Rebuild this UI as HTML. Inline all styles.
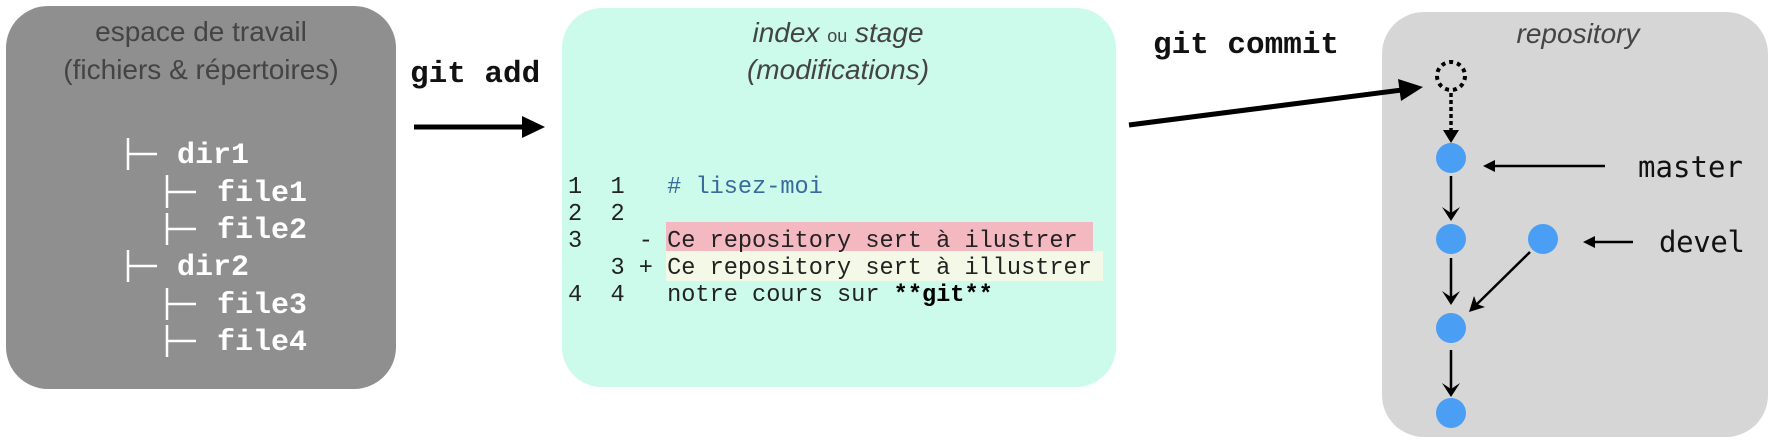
<!DOCTYPE html>
<html><head><meta charset="utf-8"><style>
html,body{margin:0;padding:0;background:#fff;}
svg{display:block;}
.pre{white-space:pre;}
</style></head><body>
<svg width="1774" height="447" viewBox="0 0 1774 447" xmlns="http://www.w3.org/2000/svg">
<!-- Box 1 -->
<rect x="6" y="6" width="390" height="383" rx="42" fill="#8f8f8f"/>
<g font-family="Liberation Sans, sans-serif" font-size="28" fill="#444" text-anchor="middle">
<text x="201" y="41">espace de travail</text>
<text x="201" y="79">(fichiers &amp; répertoires)</text>
</g>
<g stroke="#fff" stroke-width="2.5" fill="none">
<path d="M128 138 V170 M128 154 H157"/>
<path d="M167 175 V208 M167 192 H196"/>
<path d="M167 213 V245 M167 229 H196"/>
<path d="M128 250 V282 M128 266 H157"/>
<path d="M167 288 V320 M167 304 H196"/>
<path d="M167 325 V357 M167 341 H196"/>
</g>
<g font-family="Liberation Mono, monospace" font-weight="bold" font-size="30" fill="#fff">
<text x="177" y="163">dir1</text>
<text x="217" y="201">file1</text>
<text x="217" y="238">file2</text>
<text x="177" y="275">dir2</text>
<text x="217" y="313">file3</text>
<text x="217" y="350">file4</text>
</g>
<!-- git add -->
<text x="410" y="82" font-family="Liberation Mono, monospace" font-weight="bold" font-size="31" fill="#111">git add</text>
<line x1="414" y1="127" x2="526" y2="127" stroke="#000" stroke-width="5"/>
<path d="M522 116 L545 127 L522 138 z" fill="#000"/>
<!-- Box 2 -->
<rect x="562" y="8" width="554" height="379" rx="40" fill="#ccfaeb"/>
<g font-family="Liberation Sans, sans-serif" font-style="italic" font-size="28" fill="#444" text-anchor="middle">
<text x="838" y="42">index <tspan font-size="18" font-style="normal">ou</tspan> stage</text>
<text x="838" y="79">(modifications)</text>
</g>
<rect x="666" y="222" width="427" height="29" fill="#f4b8c1"/>
<rect x="666" y="251" width="437" height="30" fill="#f3f9e6"/>
<g font-family="Liberation Mono, monospace" font-size="23.6" fill="#222" class="pre">
<text x="568" y="193" class="pre">1  1   <tspan fill="#3a6a9a"># lisez-moi</tspan></text>
<text x="568" y="220" class="pre">2  2</text>
<text x="568" y="247" class="pre">3    - Ce repository sert à ilustrer</text>
<text x="568" y="274" class="pre">   3 + Ce repository sert à illustrer</text>
<text x="568" y="301" class="pre">4  4   notre cours sur <tspan font-weight="bold" fill="#000">**git**</tspan></text>
</g>
<!-- Box 3 -->
<rect x="1382" y="12" width="386" height="425" rx="42" fill="#d6d6d6"/>
<text x="1578" y="43" font-family="Liberation Sans, sans-serif" font-style="italic" font-size="28" fill="#444" text-anchor="middle">repository</text>
<!-- git commit -->
<text x="1153" y="53" font-family="Liberation Mono, monospace" font-weight="bold" font-size="31" fill="#111">git commit</text>
<line x1="1129" y1="125" x2="1402" y2="90" stroke="#000" stroke-width="5"/>
<path d="M1398 79 L1423 87 L1401 101 z" fill="#000"/>
<circle cx="1451" cy="76" r="14" fill="none" stroke="#000" stroke-width="4" stroke-dasharray="4 4"/>
<line x1="1451" y1="93" x2="1451" y2="132" stroke="#000" stroke-width="3.5" stroke-dasharray="4 3"/>
<path d="M1443 130 L1451 143 L1459 130 z" fill="#000"/>
<g stroke="#000" stroke-width="2.5">
<line x1="1451" y1="176" x2="1451" y2="218"/>
<line x1="1451" y1="258" x2="1451" y2="300"/>
<line x1="1451" y1="350" x2="1451" y2="392"/>
<line x1="1530" y1="252" x2="1474" y2="307"/>
<line x1="1605" y1="166" x2="1490" y2="166"/>
<line x1="1633" y1="242" x2="1592" y2="242"/>
</g>
<g fill="#000">
<path d="M1442 207 L1451 221 L1460 207 L1451 213 z"/>
<path d="M1442 291 L1451 305 L1460 291 L1451 297 z"/>
<path d="M1442 383 L1451 397 L1460 383 L1451 389 z"/>
<path d="M1469 312 L1485 307 L1477 304 L1474 296 z"/>
<path d="M1483 166 L1495 160 L1495 172 z"/>
<path d="M1583 242 L1595 236 L1595 248 z"/>
</g>
<g fill="#4a9ff5">
<circle cx="1451" cy="158" r="15"/>
<circle cx="1451" cy="239" r="15"/>
<circle cx="1543" cy="239" r="15"/>
<circle cx="1451" cy="328" r="15"/>
<circle cx="1451" cy="413" r="15"/>
</g>
<g font-family="DejaVu Sans Mono, monospace" font-size="29" fill="#111">
<text x="1638" y="177" textLength="105">master</text>
<text x="1659" y="252" textLength="86">devel</text>
</g>
</svg>
</body></html>
